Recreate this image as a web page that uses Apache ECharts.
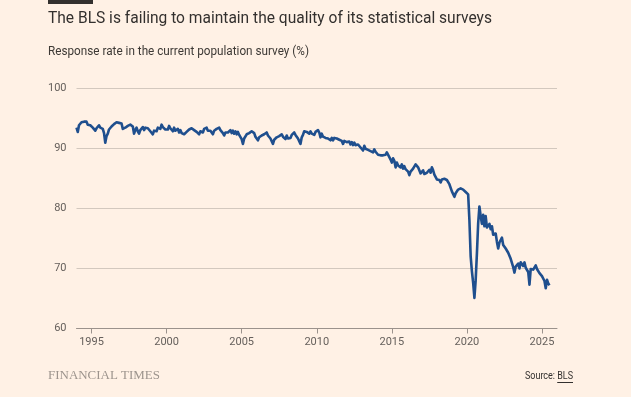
<!DOCTYPE html>
<html>
<head>
<meta charset="utf-8">
<script src="https://cdn.jsdelivr.net/npm/echarts@6.0.0/dist/echarts.min.js"></script>
<style>
  html, body { margin: 0; padding: 0; background: #fff1e5; }
  #chart { width: 631px; height: 397px; }
</style>
</head>
<body>
<div id="chart"></div>
<script>
// monthly CPS response rate (%), Jan 1994 onwards, one row per year
const startYear = 1994;
const rate1990s = [
  93.4, 92.7, 93.8, 94.1, 94.3, 94.0, 94.4, 94.2, 94.4, 93.9, 94.2, 93.8,
  93.9, 93.4, 93.5, 92.9, 93.3, 93.2, 93.8, 93.4, 93.6, 93.2, 92.5, 90.9,
  92.0, 92.4, 93.1, 92.9, 93.6, 93.5, 94.0, 93.9, 94.3, 94.0, 94.2, 93.9,
  94.1, 93.2, 92.9, 93.4, 93.2, 93.7, 93.4, 93.9, 94.0, 93.6, 92.4, 93.0,
  93.4, 92.8, 92.4, 93.0, 93.0, 93.5, 93.0, 93.4, 93.7, 93.3, 93.4, 92.8,
  92.8, 92.3, 92.9, 93.2, 92.8, 93.4, 93.5, 93.2, 93.9, 93.5, 93.6, 93.1
];
const rate2000s = [
  93.2, 93.1, 93.7, 93.3, 93.3, 92.8, 93.4, 92.9, 93.0, 93.2, 92.6, 93.0,
  92.5, 92.5, 92.3, 92.2, 92.7, 92.8, 93.1, 93.0, 93.3, 93.4, 93.0, 92.9,
  92.7, 92.7, 92.3, 92.8, 93.0, 92.6, 93.2, 93.0, 93.4, 92.9, 93.0, 92.9,
  92.8, 92.3, 92.9, 92.8, 93.2, 92.9, 93.4, 93.0, 93.0, 92.5, 92.1, 92.6,
  92.3, 92.6, 92.6, 93.0, 92.5, 92.9, 92.4, 92.8, 92.3, 92.7, 92.2, 92.1,
  91.5, 90.7, 91.6, 91.9, 92.3, 92.2, 92.5, 92.3, 92.8, 92.5, 92.5, 91.9,
  91.8, 91.3, 91.8, 91.6, 92.1, 92.0, 92.3, 92.2, 92.6, 92.1, 92.2, 91.6,
  91.3, 90.7, 91.4, 91.3, 91.8, 91.7, 92.0, 91.8, 92.3, 91.9, 92.0, 91.5,
  92.1, 91.6, 91.8, 91.7, 92.2, 92.0, 92.6, 92.2, 92.3, 91.6, 91.4, 90.7,
  91.8, 92.2, 92.8, 93.0, 92.7, 92.9, 92.4, 92.8, 92.4, 92.4, 92.2, 92.7
];
const rate2010s = [
  92.4, 93.0, 92.6, 91.8, 92.4, 91.9, 91.9, 91.7, 91.8, 91.6, 91.6, 91.3,
  91.7, 91.3, 91.7, 91.5, 91.6, 91.4, 91.4, 91.2, 91.2, 90.7, 91.2, 90.9,
  91.0, 90.7, 91.1, 90.6, 91.0, 90.5, 90.9, 90.5, 90.6, 90.6, 90.5, 90.1,
  90.0, 89.6, 90.4, 89.9, 89.9, 89.7, 89.8, 89.5, 89.7, 89.3, 89.8, 89.4,
  89.3, 88.9, 89.0, 88.8, 89.0, 88.8, 89.1, 88.9, 89.3, 89.2, 88.5, 88.1,
  87.6, 88.3, 87.9, 86.8, 87.6, 87.1, 87.3, 86.8, 87.3, 86.6, 87.0, 86.5,
  86.8, 86.1, 85.5, 86.1, 86.0, 86.6, 86.6, 87.3, 87.4, 86.8, 86.5, 85.8,
  85.9, 86.3, 85.7, 85.5, 85.9, 85.8, 86.4, 85.9, 86.8, 86.3, 85.6, 85.3,
  84.8, 84.9, 84.7, 84.3, 84.8, 84.6, 84.9, 85.1, 84.7, 84.7, 84.0, 83.7,
  82.8, 82.7, 81.9, 82.5, 82.7, 83.1, 83.0, 83.3, 83.5, 83.1, 83.1, 82.7
];
const rate2020s = [
  82.6, 82.3, 78.0, 72.0, 69.5, 67.6, 65.1, 68.0, 72.5, 77.5, 80.3, 78.7,
  77.4, 78.9, 77.0, 78.7, 76.8, 76.5, 77.4, 76.5, 77.0, 75.6, 75.4, 75.8,
  74.4, 73.3, 74.3, 74.4, 75.1, 73.9, 74.0, 73.3, 73.3, 72.6, 72.4, 71.6,
  71.4, 70.2, 69.3, 70.3, 70.1, 70.8, 70.0, 71.0, 71.1, 70.4, 71.0, 70.1,
  70.2, 69.4, 67.3, 69.9, 70.0, 69.8, 70.1, 70.5, 69.9, 69.7, 69.2, 69.1,
  68.7, 68.6, 67.9, 66.7, 68.1, 67.5, 67.2
];
const yearTicks = [1995, 2000, 2005, 2010, 2015, 2020, 2025];
const rateTicks = [60, 70, 80, 90, 100];

const titleText = 'The BLS is failing to maintain the quality of its statistical surveys';
const subtitleText = 'Response rate in the current population survey (%)';

const allRates = rate1990s.concat(rate2000s, rate2010s, rate2020s);
const seriesData = allRates.map((v, i) => [startYear + i / 12, v]);

// squeeze text to the widths used in the original
const measureCtx = document.createElement('canvas').getContext('2d');
function fit(text, font, width) {
  measureCtx.font = font;
  return width / measureCtx.measureText(text).width;
}
const titleFont = '400 16px Roboto';
const subFont = '400 12px Roboto';
const ftFont = '400 13px "Liberation Serif"';
const srcFont = '400 11px Roboto';
const srcScale = fit('Source: BLS', srcFont, 48);
measureCtx.font = srcFont;
const srcLabelW = measureCtx.measureText('Source: ').width * srcScale;
const blsW = measureCtx.measureText('BLS').width * srcScale;

let chart = echarts.init(document.getElementById('chart'));
let option = {
  backgroundColor: '#fff1e5',
  animation: false,
  grid: { left: 76.5, right: 74, top: 88, bottom: 68.5, containLabel: false },
  xAxis: {
    type: 'value',
    min: 1994,
    max: 2026,
    axisLine: { show: true, lineStyle: { color: '#9b928c', width: 1 } },
    axisTick: { show: true, length: 5, customValues: yearTicks, lineStyle: { color: '#9b928c' } },
    axisLabel: {
      customValues: yearTicks, margin: 8, color: '#66605c', fontSize: 11, fontFamily: 'Roboto',
      formatter: function (v) { return String(v); }
    },
    splitLine: { show: false }
  },
  yAxis: {
    type: 'value',
    min: rateTicks[0],
    max: rateTicks[rateTicks.length - 1],
    interval: 10,
    axisLine: { show: false },
    axisTick: { show: false },
    axisLabel: { margin: 10, color: '#66605c', fontSize: 11, fontFamily: 'Roboto' },
    splitLine: { lineStyle: { color: '#d3c8be', width: 1 } }
  },
  series: [{
    type: 'line',
    data: seriesData,
    showSymbol: false,
    lineStyle: { color: '#1f4f8e', width: 2.6, join: 'round' },
    z: 3
  }],
  graphic: [
    { type: 'rect', shape: { x: 48, y: 0, width: 45, height: 4 }, style: { fill: '#33302e' } },
    { type: 'text', x: 48, y: 19, scaleX: fit(titleText, titleFont, 444),
      style: { text: titleText, font: titleFont, fill: '#33302e', verticalAlign: 'middle' } },
    { type: 'text', x: 48, y: 52, scaleX: fit(subtitleText, subFont, 261),
      style: { text: subtitleText, font: subFont, fill: '#3d3935', verticalAlign: 'middle' } },
    { type: 'text', x: 48, y: 376, scaleX: fit('FINANCIAL TIMES', ftFont, 112),
      style: { text: 'FINANCIAL TIMES', font: ftFont, fill: '#9d948d', verticalAlign: 'middle' } },
    { type: 'text', x: 525, y: 376, scaleX: srcScale,
      style: { text: 'Source: BLS', font: srcFont, fill: '#33302e', verticalAlign: 'middle' } },
    { type: 'line', shape: { x1: 525 + srcLabelW, y1: 382.5, x2: 525 + srcLabelW + blsW, y2: 382.5 },
      style: { stroke: '#33302e', lineWidth: 1 } }
  ]
};
option && chart.setOption(option);
</script>
</body>
</html>
